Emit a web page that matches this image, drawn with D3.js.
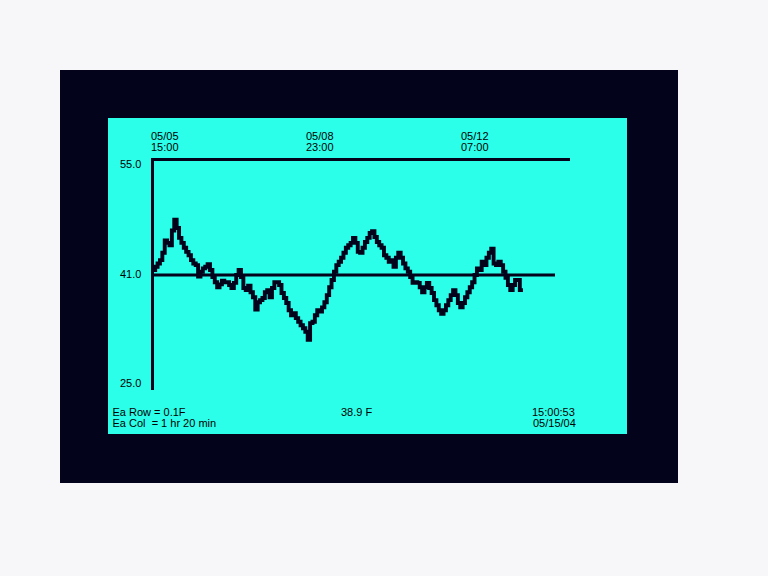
<!DOCTYPE html>
<html><head><meta charset="utf-8">
<script src="https://cdn.jsdelivr.net/npm/d3@7"></script>
<style>
html,body{margin:0;padding:0;background:#f7f6f8;}
svg{display:block;}
text{font-family:"Liberation Sans",Arial,Helvetica,sans-serif;font-size:11px;fill:#000;}
</style>
</head><body>
<svg id="c" width="768" height="576"></svg>
<script>
// Temperature readings (°F), one per column
const temps = [
  41.6, 42.0, 42.4, 42.8, 43.7, 45.2, 44.9, 44.6, 46.4, 47.7, 46.7, 45.5, 44.9, 44.3, 43.8, 43.4,
  42.8, 42.4, 42.2, 40.8, 41.4, 41.8, 42.0, 42.3, 41.6, 40.7, 40.0, 39.3, 39.7, 40.2, 40.0, 40.0,
  39.6, 39.2, 39.9, 41.0, 41.6, 40.7, 39.2, 38.9, 39.5, 38.6,
  37.9, 36.2, 37.2, 37.5, 37.8, 38.6, 38.9, 37.9, 39.2, 40.0, 40.0, 39.6, 38.5, 37.8, 37.1, 36.1,
  35.4, 35.7, 35.0, 34.5, 34.0, 33.6, 33.1, 32.0, 34.3, 34.5, 35.4, 36.1, 35.9, 36.5, 37.2, 38.2, 39.3,
  40.3, 41.4, 42.2, 42.6, 43.1, 43.7, 44.3, 44.6, 44.9, 45.5, 44.9, 43.8, 43.7, 44.3, 45.0, 45.5,
  46.1, 46.3, 45.6, 45.0, 44.6, 44.3, 43.4, 43.1, 42.6, 42.8, 42.0, 43.1, 43.7, 43.1, 42.4, 41.8,
  41.4, 40.7, 39.9, 40.0, 39.9, 39.3, 38.6, 39.3, 39.9,
  39.2, 38.5, 37.5, 36.8, 36.1, 35.6, 36.1, 36.8, 37.5, 38.2, 38.9, 38.2, 37.1, 36.5, 37.1, 37.9,
  38.6, 39.3, 40.0, 41.0, 41.8, 41.6, 42.6, 42.2, 43.1, 43.7, 44.2, 42.4, 42.2, 42.6, 42.2, 41.4,
  40.6, 39.6, 38.9, 39.6, 40.3, 40.3, 38.9
];
// Y-axis tick values and labels
const yTickValues = [55, 41, 25];
const yTickLabels = ["55.0", "41.0", "25.0"];
const yTickDy = [8.5, 2.5, -3];
// Column (time) labels
const timeTicks = [new Date(2004, 4, 5, 15), new Date(2004, 4, 8, 23), new Date(2004, 4, 12, 7)];
const timeDateLabels = ["05/05", "05/08", "05/12"];
const timeHourLabels = ["15:00", "23:00", "07:00"];
// Footer texts
const rowInfo = "Ea Row = 0.1F";
const colInfo = "Ea Col  = 1 hr 20 min";
const currentReading = "38.9 F";
const clockTime = "15:00:53";
const clockDate = "05/15/04";

const svg = d3.select("#c");
const ink = "#03031b";

svg.append("rect").attr("x", 0).attr("y", 0).attr("width", 768).attr("height", 576).attr("fill", "#f7f6f8");
svg.append("rect").attr("x", 60).attr("y", 70).attr("width", 618).attr("height", 413).attr("fill", "#03031b");
svg.append("rect").attr("x", 108).attr("y", 118).attr("width", 519).attr("height", 316).attr("fill", "#2bffe9");

const y = d3.scaleLinear().domain([25, 41, 55]).range([390, 275, 159.5]);
const x = d3.scaleLinear().domain([0, temps.length - 1]).range([154, 521]);
const xt = d3.scaleTime().domain([timeTicks[0], timeTicks[2]]).range([151, 461]);

// axes
const axisX = 152.5;
svg.append("line").attr("x1", axisX).attr("x2", axisX).attr("y1", y(55) - 1.5).attr("y2", 390)
  .attr("stroke", ink).attr("stroke-width", 3);
svg.append("line").attr("x1", axisX - 1.5).attr("x2", 570).attr("y1", y(55)).attr("y2", y(55))
  .attr("stroke", ink).attr("stroke-width", 3);
svg.append("line").attr("x1", axisX).attr("x2", 555).attr("y1", y(41)).attr("y2", y(41))
  .attr("stroke", ink).attr("stroke-width", 3);

// data line
const line = d3.line().x((d, i) => x(i)).y(d => y(d)).curve(d3.curveStep);
svg.append("path").datum(temps).attr("d", line).attr("fill", "none")
  .attr("stroke", ink).attr("stroke-width", 3.9).attr("stroke-linejoin", "miter").attr("stroke-linecap", "square");

// y labels
svg.selectAll("text.yl").data(yTickValues).enter().append("text").attr("class", "yl")
  .attr("x", 120).attr("y", (d, i) => y(d) + yTickDy[i]).text((d, i) => yTickLabels[i]);

// time labels
svg.selectAll("text.td").data(timeTicks).enter().append("text").attr("class", "td")
  .attr("x", d => xt(d)).attr("y", 140).text((d, i) => timeDateLabels[i]);
svg.selectAll("text.th").data(timeTicks).enter().append("text").attr("class", "th")
  .attr("x", d => xt(d)).attr("y", 151).text((d, i) => timeHourLabels[i]);

// footer
svg.append("text").attr("x", 112.5).attr("y", 415.5).text(rowInfo);
svg.append("text").attr("x", 112.5).attr("y", 426.5).attr("xml:space", "preserve").style("white-space", "pre").text(colInfo);
svg.append("text").attr("x", 341).attr("y", 415.5).text(currentReading);
svg.append("text").attr("x", 532).attr("y", 415.5).text(clockTime);
svg.append("text").attr("x", 533).attr("y", 426.5).text(clockDate);
</script>
</body></html>
